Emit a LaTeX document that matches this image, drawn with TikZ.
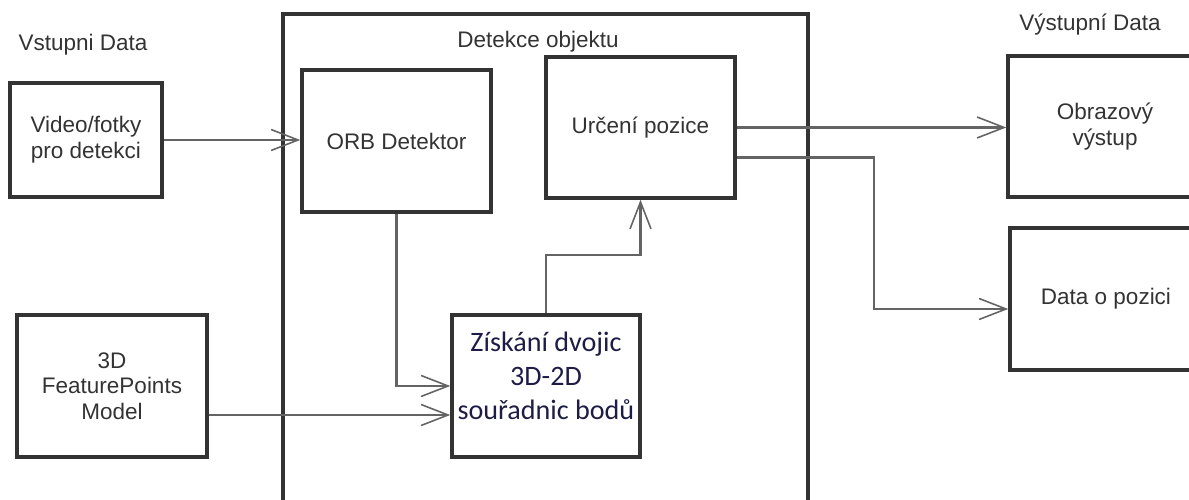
\documentclass[tikz,border=0pt]{standalone}
\usepackage{fontspec}
\setmainfont{Liberation Sans}
\newfontfamily\calibrifont{Carlito}
\usetikzlibrary{arrows.meta}

\definecolor{boxline}{RGB}{51,51,51}
\definecolor{wireline}{RGB}{100,100,100}
\definecolor{navytext}{RGB}{28,28,70}

\begin{document}
\begin{tikzpicture}[
    font=\fontsize{12.8}{14.6}\selectfont,
    text=boxline,
    blok/.style={draw=boxline, line width=2pt, inner sep=0pt, align=center},
    wire/.style={draw=wireline, line width=1.4pt,
      -{Straight Barb[length=5.4mm, width=4.2mm, line width=0.9pt]}},
  ]
  \useasboundingbox (0,0) rectangle (23.78,-10);

  % --- Detekce objektu (frame) ---
  \draw[boxline, line width=2pt] (5.66,-10) |- (16.16,-0.28) -- (16.16,-10);
  \node (detekce) at (10.76,-0.84) {Detekce objektu};

  % --- input side ---
  \node (vstup) at (1.66,-0.90) {Vstupni Data};
  \node[blok, minimum width=3.04cm, minimum height=2.28cm] (video) at (1.72,-2.80)
    {Video/fotky\\pro detekci};
  \node[blok, minimum width=3.80cm, minimum height=2.84cm] (model) at (2.24,-7.72)
    {3D\\FeaturePoints\\Model};

  % --- processing blocks ---
  \node[blok, minimum width=3.78cm, minimum height=2.84cm] (orb) at (7.93,-2.82)
    {ORB Detektor};
  \node[blok, minimum width=3.78cm, minimum height=2.82cm] (urceni) at (12.81,-2.55)
    {Určení pozice};
  \node[blok, minimum width=3.76cm, minimum height=2.84cm,
        font=\calibrifont\fontsize{16}{19.3}\selectfont, text=navytext] (ziskani) at (10.92,-7.72)
    {Získání dvojic\\3D-2D\\souřadnic bodů\\[-0.28cm]};

  % --- output side ---
  \node (vystup) at (21.80,-0.50) {Výstupní Data};
  \node[blok, minimum width=3.88cm, minimum height=2.82cm] (obraz) at (22.10,-2.53)
    {Obrazový\\výstup};
  \node[blok, minimum width=3.84cm, minimum height=2.84cm] (pozice) at (22.12,-5.98)
    {Data o pozici};

  % spojnice
  \draw[wire] (video.east) -- (video.east -| orb.west);
  \draw[wire] (orb.south) |- (ziskani.west);
  \draw[wire] ([yshift=-0.58cm]model.east) -- ([yshift=-0.58cm]model.east -| ziskani.west);
  \draw[wire] (ziskani.north) -- ++(0,1.16) -| (urceni.south);
  \draw[wire] (urceni.east) -- (urceni.east -| obraz.west);
  \draw[wire] ([yshift=-0.6cm]urceni.east) -- ++(2.74,0) |- ([yshift=-0.2cm]pozice.west);
\end{tikzpicture}
\end{document}
